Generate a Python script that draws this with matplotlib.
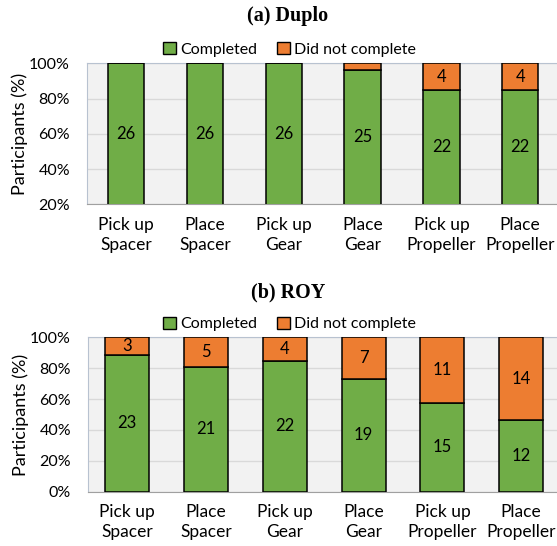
import matplotlib.pyplot as plt
from matplotlib.patches import Patch

categories = ["Pick up\nSpacer", "Place\nSpacer", "Pick up\nGear",
              "Place\nGear", "Pick up\nPropeller", "Place\nPropeller"]

duplo_done = [26, 26, 26, 25, 22, 22]
duplo_not = [0, 0, 0, 1, 4, 4]
roy_done = [23, 21, 22, 19, 15, 12]
roy_not = [3, 5, 4, 7, 11, 14]

green = "#70AD47"
orange = "#ED7D31"
font = ["Lato", "DejaVu Sans"]
serif = ["Liberation Serif", "DejaVu Serif"]

plt.rcParams['font.family'] = font

fig = plt.figure(figsize=(5.57, 5.46), dpi=100)


def panel(rect, done, notdone, ymin, width, title, title_y, leg_y):
    ax = fig.add_axes(rect)
    ax.set_facecolor("#F2F2F2")
    x = range(len(categories))
    total = [a + b for a, b in zip(done, notdone)]
    pd = [100 * a / t for a, t in zip(done, total)]
    pn = [100 * b / t for b, t in zip(notdone, total)]
    ax.bar(x, pd, width, color=green, edgecolor="black", linewidth=1.1, zorder=3)
    ax.bar(x, pn, width, bottom=pd, color=orange, edgecolor="black",
           linewidth=1.1, zorder=3)
    for i in x:
        lo = max(0, ymin)
        if done[i] > 0:
            ax.text(i, (lo + pd[i]) / 2, str(done[i]), ha="center",
                    va="center", fontsize=12, zorder=4)
        if notdone[i] > 1:
            ax.text(i, pd[i] + pn[i] / 2, str(notdone[i]), ha="center",
                    va="center", fontsize=12, zorder=4)
    ax.set_xlim(-0.5, len(categories) - 0.5)
    ax.set_ylim(ymin, 100)
    ax.set_yticks(range(ymin, 101, 20))
    ax.set_yticklabels([f"{v}%" for v in range(ymin, 101, 20)])
    ax.set_xticks(list(x))
    ax.set_xticklabels(categories, linespacing=1.3)
    ax.tick_params(axis="y", length=0, pad=12, labelsize=11.5)
    ax.tick_params(axis="x", length=0, pad=9, labelsize=12.5)
    ax.grid(axis="y", color="#D9D9D9", linewidth=1, zorder=0)
    ax.set_axisbelow(True)
    for s in ["left", "top", "right"]:
        ax.spines[s].set_color("#B8C2D0")
    ax.spines["bottom"].set_color("#A0A0A0")
    ax.set_ylabel("Participants (%)", fontsize=13)
    ax.yaxis.set_label_coords(-0.125, 0.5)
    fig.text(0.517, title_y, title, ha="center", va="center",
             fontsize=14.5, fontweight="bold", family=serif)
    handles = [Patch(facecolor=green, edgecolor="black", label="Completed"),
               Patch(facecolor=orange, edgecolor="black", label="Did not complete")]
    fig.legend(handles=handles, loc="center", bbox_to_anchor=(0.52, leg_y),
               ncol=2, frameon=False, fontsize=11.5, handlelength=0.8,
               handleheight=0.8, handletextpad=0.3, columnspacing=1.2)
    return ax


panel([0.1557, 0.6258, 0.849, 0.2582], duplo_done, duplo_not, 20, 0.46,
      "(a) Duplo", 0.9707, 0.9097)
panel([0.1575, 0.0995, 0.849, 0.2828], roy_done, roy_not, 0, 0.56,
      "(b) ROY", 0.4634, 0.4066)

fig.savefig("out.png", dpi=100)
